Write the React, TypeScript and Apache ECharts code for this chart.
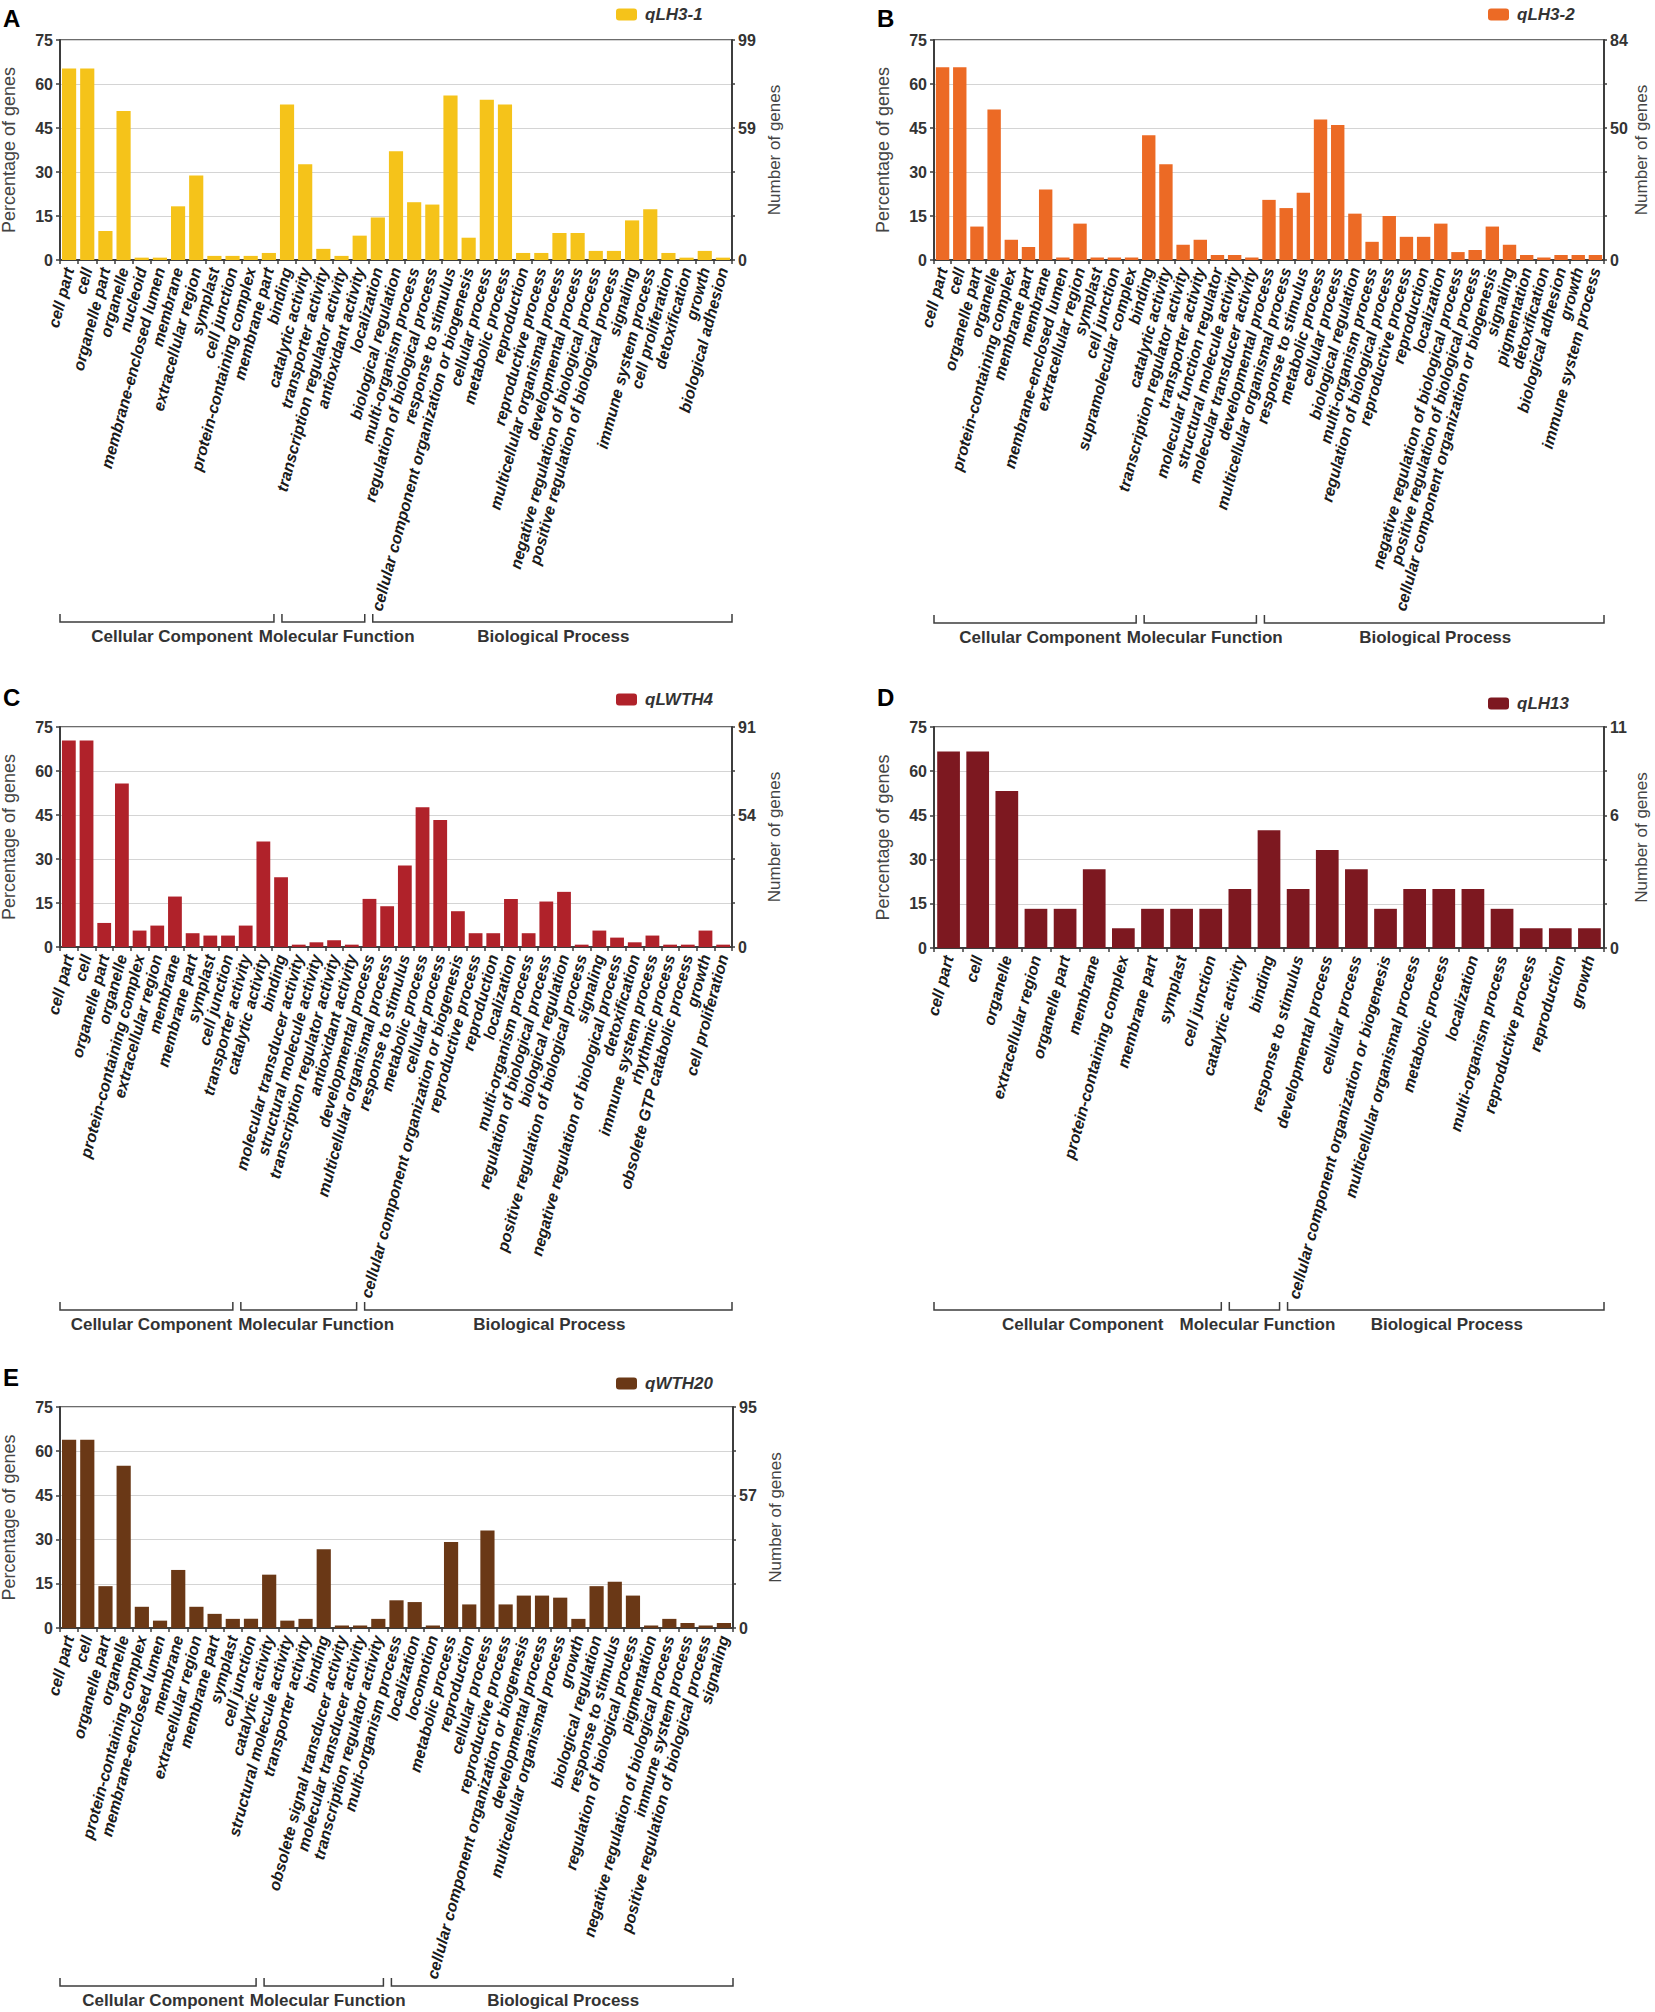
import React, { useEffect, useRef } from "react";
import * as echarts from "echarts";

const FONT = "'Liberation Sans', Arial, Helvetica, sans-serif";

const groupNames = ["Cellular Component", "Molecular Function", "Biological Process"];

// ---------- Panel A : qLH3-1 ----------
const catsA = ["cell part","cell","organelle part","organelle","nucleoid","membrane-enclosed lumen","membrane","extracellular region","symplast","cell junction","protein-containing complex","membrane part","binding","catalytic activity","transporter activity","transcription regulator activity","antioxidant activity","localization","biological regulation","multi-organism process","regulation of biological process","response to stimulus","cellular component organization or biogenesis","cellular process","metabolic process","reproduction","reproductive process","multicellular organismal process","developmental process","negative regulation of biological process","positive regulation of biological process","signaling","immune system process","cell proliferation","detoxification","growth","biological adhesion"];
const valsA = [65.3,65.3,9.9,50.8,0.8,0.8,18.3,28.8,1.4,1.4,1.4,2.4,53,32.6,3.8,1.4,8.3,14.5,37.1,19.7,18.9,56.1,7.6,54.6,53,2.4,2.4,9.2,9.2,3.1,3.1,13.5,17.3,2.4,0.8,3.1,0.8];
const groupsA = [12, 5, 20];
const rightTicksA = ["0", "59", "99"];
const rightMaxA = 99;

// ---------- Panel B : qLH3-2 ----------
const catsB = ["cell part","cell","organelle part","organelle","protein-containing complex","membrane part","membrane","membrane-enclosed lumen","extracellular region","symplast","cell junction","supramolecular complex","binding","catalytic activity","transcription regulator activity","transporter activity","molecular function regulator","structural molecule activity","molecular transducer activity","developmental process","multicellular organismal process","response to stimulus","metabolic process","cellular process","biological regulation","multi-organism process","regulation of biological process","reproductive process","reproduction","localization","negative regulation of biological process","positive regulation of biological process","cellular component organization or biogenesis","signaling","pigmentation","detoxification","biological adhesion","growth","immune system process"];
const valsB = [65.7,65.7,11.4,51.3,6.9,4.4,24,0.85,12.4,0.85,0.85,0.85,42.5,32.6,5.2,6.9,1.7,1.7,0.85,20.5,17.7,22.9,47.9,46,15.8,6.2,15,7.9,7.9,12.4,2.7,3.4,11.4,5.2,1.7,0.85,1.7,1.7,1.7];
const groupsB = [12, 7, 20];
const rightTicksB = ["0", "50", "84"];
const rightMaxB = 84;

// ---------- Panel C : qLWTH4 ----------
const catsC = ["cell part","cell","organelle part","organelle","protein-containing complex","extracellular region","membrane","membrane part","symplast","cell junction","transporter activity","catalytic activity","binding","molecular transducer activity","structural molecule activity","transcription regulator activity","antioxidant activity","developmental process","multicellular organismal process","response to stimulus","metabolic process","cellular process","cellular component organization or biogenesis","reproductive process","reproduction","localization","multi-organism process","regulation of biological process","biological regulation","positive regulation of biological process","signaling","negative regulation of biological process","detoxification","immune system process","rhythmic process","obsolete GTP catabolic process","growth","cell proliferation"];
const valsC = [70.4,70.4,8.2,55.7,5.6,7.3,17.2,4.7,3.9,3.9,7.3,36,23.8,0.8,1.6,2.3,0.8,16.4,13.9,27.8,47.6,43.3,12.2,4.7,4.7,16.4,4.7,15.5,18.8,0.8,5.6,3.2,1.6,3.9,0.8,0.8,5.6,0.8];
const groupsC = [10, 7, 21];
const rightTicksC = ["0", "54", "91"];
const rightMaxC = 91;

// ---------- Panel D : qLH13 ----------
const catsD = ["cell part","cell","organelle","extracellular region","organelle part","membrane","protein-containing complex","membrane part","symplast","cell junction","catalytic activity","binding","response to stimulus","developmental process","cellular process","cellular component organization or biogenesis","multicellular organismal process","metabolic process","localization","multi-organism process","reproductive process","reproduction","growth"];
const valsD = [66.7,66.7,53.3,13.3,13.3,26.7,6.7,13.3,13.3,13.3,20,40,20,33.3,26.7,13.3,20,20,20,13.3,6.7,6.7,6.7];
const groupsD = [10, 2, 11];
const rightTicksD = ["0", "6", "11"];
const rightMaxD = 11;

// ---------- Panel E : qWTH20 ----------
const catsE = ["cell part","cell","organelle part","organelle","protein-containing complex","membrane-enclosed lumen","membrane","extracellular region","membrane part","symplast","cell junction","catalytic activity","structural molecule activity","transporter activity","binding","obsolete signal transducer activity","molecular transducer activity","transcription regulator activity","multi-organism process","localization","locomotion","metabolic process","reproduction","cellular process","reproductive process","cellular component organization or biogenesis","developmental process","multicellular organismal process","growth","biological regulation","response to stimulus","regulation of biological process","pigmentation","negative regulation of biological process","immune system process","positive regulation of biological process","signaling"];
const valsE = [63.9,63.9,14.2,55.1,7.2,2.5,19.7,7.2,4.8,3.1,3.1,18.1,2.5,3.1,26.7,0.85,0.85,3.1,9.4,8.8,0.85,29.2,8,33.1,8,11,11,10.3,3.1,14.2,15.7,11,0.85,3.1,1.7,0.85,1.7];
const groupsE = [11, 7, 19];
const rightTicksE = ["0", "57", "95"];
const rightMaxE = 95;

const panelLetters = ["A", "B", "C", "D", "E"];
const seriesNames = ["qLH3-1", "qLH3-2", "qLWTH4", "qLH13", "qWTH20"];

const panels = [
  { cats: catsA, vals: valsA, groups: groupsA, ticks: rightTicksA, max: rightMaxA },
  { cats: catsB, vals: valsB, groups: groupsB, ticks: rightTicksB, max: rightMaxB },
  { cats: catsC, vals: valsC, groups: groupsC, ticks: rightTicksC, max: rightMaxC },
  { cats: catsD, vals: valsD, groups: groupsD, ticks: rightTicksD, max: rightMaxD },
  { cats: catsE, vals: valsE, groups: groupsE, ticks: rightTicksE, max: rightMaxE },
];

// layout (pixels) and styles
const colors = ["#F5C31A", "#EC6A25", "#B0222A", "#7D1820", "#6A3816"];
const layout = [
  { left: 60, top: 40, width: 672, height: 220, bracketY: 622, letterX: 3, letterY: 6, legendX: 616, legendY: 6, rightGap: 34 },
  { left: 934, top: 40, width: 670, height: 220, bracketY: 623, letterX: 877, letterY: 6, legendX: 1488, legendY: 6, rightGap: 29 },
  { left: 60, top: 727, width: 672, height: 220, bracketY: 1310, letterX: 3, letterY: 685, legendX: 616, legendY: 691, rightGap: 34 },
  { left: 934, top: 727, width: 670, height: 221, bracketY: 1310, letterX: 877, letterY: 685, legendX: 1488, legendY: 695, rightGap: 29 },
  { left: 60, top: 1407, width: 673, height: 221, bracketY: 1986, letterX: 3, letterY: 1365, legendX: 616, legendY: 1375, rightGap: 34 },
];

const AXIS = "#3d3d3d";

function measure(text: string, font: string): number {
  const c = document.createElement("canvas").getContext("2d");
  if (!c) return text.length * 9;
  c.font = font;
  return c.measureText(text).width;
}

export default function App() {
  const ref = useRef<HTMLDivElement>(null);

  useEffect(() => {
    if (!ref.current) return;
    const chart = echarts.init(ref.current, undefined, { renderer: "svg" });

    const grid = layout.map((l) => ({
      left: l.left, top: l.top, width: l.width, height: l.height,
      show: true, borderColor: AXIS, borderWidth: 1.5,
      containLabel: false, outerBoundsMode: "none",
    }));

    const xAxis = panels.map((p, i) => ({
      type: "category", gridIndex: i, data: p.cats,
      axisLine: { show: true, lineStyle: { color: AXIS, width: 2 } },
      axisTick: { show: true, length: 4, lineStyle: { color: AXIS, width: 1.5 } },
      axisLabel: {
        interval: 0, rotate: 75, margin: 8, fontSize: 16, fontWeight: "bold",
        fontStyle: "italic", color: "#1a1a1a", fontFamily: FONT,
      },
    }));

    const yAxis: any[] = [];
    panels.forEach((p, i) => {
      yAxis.push({
        type: "value", gridIndex: i, min: 0, max: 75, interval: 15, position: "left",
        name: "Percentage of genes", nameLocation: "middle", nameRotate: 90, nameGap: 42,
        nameTextStyle: { fontSize: 18, color: "#444", fontFamily: FONT },
        axisLine: { show: true, lineStyle: { color: AXIS, width: 2 } },
        axisTick: { show: true, length: 4, lineStyle: { color: AXIS, width: 1.5 } },
        axisLabel: { fontSize: 16, fontWeight: "bold", color: "#333", margin: 7, fontFamily: FONT },
        splitLine: { show: true, lineStyle: { color: "#d4d4d4", width: 1 } },
      });
      const iv = p.max / 5;
      yAxis.push({
        type: "value", gridIndex: i, min: 0, max: p.max, interval: iv, position: "right",
        name: "Number of genes", nameLocation: "middle", nameRotate: 90, nameGap: layout[i].rightGap,
        nameTextStyle: { fontSize: 17, color: "#444", fontFamily: FONT },
        axisLine: { show: true, lineStyle: { color: AXIS, width: 2 } },
        axisTick: { show: true, length: 3, lineStyle: { color: AXIS, width: 1.5 } },
        axisLabel: {
          fontSize: 16, fontWeight: "bold", color: "#333", margin: 6, fontFamily: FONT,
          formatter: (v: number) => {
            if (Math.abs(v) < 1e-3) return p.ticks[0];
            if (Math.abs(v - 3 * iv) < 1e-3) return p.ticks[1];
            if (Math.abs(v - p.max) < 1e-3) return p.ticks[2];
            return "";
          },
        },
        splitLine: { show: false },
      });
    });

    const series = panels.map((p, i) => ({
      type: "bar", name: seriesNames[i], xAxisIndex: i, yAxisIndex: 2 * i,
      data: p.vals, barCategoryGap: "22%", itemStyle: { color: colors[i] },
    }));

    const legend = panels.map((p, i) => ({
      data: [seriesNames[i]], left: layout[i].legendX, top: layout[i].legendY, padding: 0,
      itemWidth: 21, itemHeight: 12, icon: "roundRect", selectedMode: false,
      textStyle: { fontSize: 17, fontWeight: "bold", fontStyle: "italic", color: "#333", fontFamily: FONT, padding: [0, 0, 0, 3] },
    }));

    chart.setOption({
      animation: false,
      backgroundColor: "#ffffff",
      grid, xAxis, yAxis, series, legend,
    });

    // brackets, group titles and panel letters
    const graphic: any[] = [];
    const groupFont = `bold 17px ${FONT}`;
    panels.forEach((p, i) => {
      const l = layout[i];
      graphic.push({
        type: "text", x: l.letterX, y: l.letterY,
        style: { text: panelLetters[i], fontSize: 24, fontWeight: "bold", fontFamily: FONT, fill: "#000", align: "left", verticalAlign: "top", textAlign: "left", textVerticalAlign: "top" },
      });
      const c0 = chart.convertToPixel({ gridIndex: i }, [0, 0]) as number[];
      const c1 = chart.convertToPixel({ gridIndex: i }, [1, 0]) as number[];
      const bw = c1[0] - c0[0];
      const boundary = (k: number) => c0[0] - bw / 2 + bw * k;
      let start = 0;
      let prevRight = -Infinity;
      const y = l.bracketY;
      p.groups.forEach((n, g) => {
        const end = start + n;
        const x1 = boundary(start) + (g === 0 ? 0 : 4);
        const x2 = boundary(end) - (g === p.groups.length - 1 ? 0 : 4);
        graphic.push({
          type: "polyline",
          shape: { points: [[x1, y - 8], [x1, y], [x2, y], [x2, y - 8]] },
          style: { stroke: AXIS, lineWidth: 1.5, fill: null },
        });
        const w = measure(groupNames[g], groupFont);
        let tx = (boundary(start) + boundary(end)) / 2 + 3 - w / 2;
        if (tx < prevRight + 6) tx = prevRight + 6;
        prevRight = tx + w;
        graphic.push({
          type: "text", x: tx, y: y + 14,
          style: { text: groupNames[g], fontSize: 17, fontWeight: "bold", fontFamily: FONT, fill: "#333", align: "left", verticalAlign: "middle", textAlign: "left", textVerticalAlign: "middle" },
        });
        start = end;
      });
    });
    chart.setOption({ graphic });

    return () => chart.dispose();
  }, []);

  return <div ref={ref} style={{ position: "absolute", left: 0, top: 0, width: 1655, height: 2012 }} />;
}
